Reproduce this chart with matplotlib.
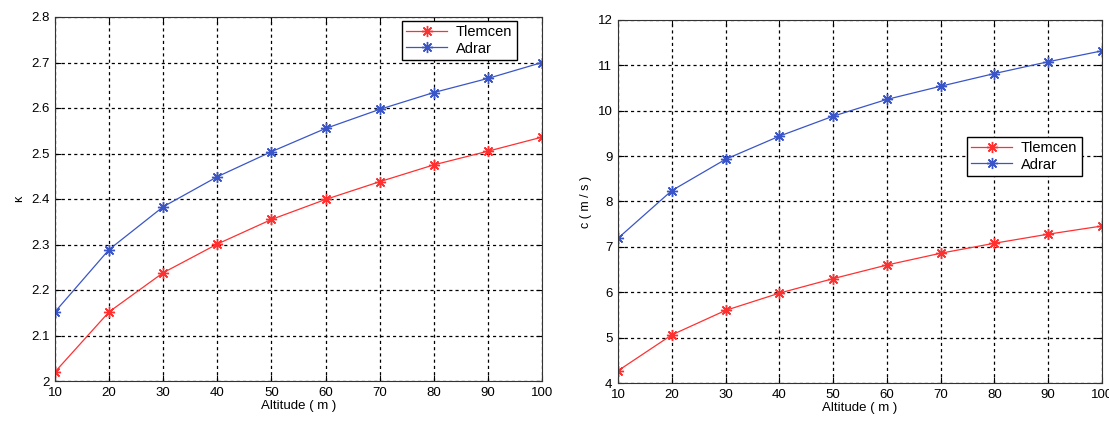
import matplotlib
matplotlib.use("Agg")
import matplotlib.pyplot as plt

altitude = [10, 20, 30, 40, 50, 60, 70, 80, 90, 100]
k_tlemcen = [2.02, 2.152, 2.238, 2.301, 2.355, 2.399, 2.438, 2.475, 2.505, 2.536]
k_adrar = [2.152, 2.289, 2.383, 2.449, 2.504, 2.555, 2.597, 2.634, 2.665, 2.700]
c_tlemcen = [4.27, 5.06, 5.60, 5.98, 6.30, 6.60, 6.86, 7.08, 7.28, 7.46]
c_adrar = [7.19, 8.24, 8.93, 9.44, 9.88, 10.25, 10.54, 10.82, 11.08, 11.32]
series_names = ["Tlemcen", "Adrar"]
xticks = [10, 20, 30, 40, 50, 60, 70, 80, 90, 100]
k_ticks = [2.0, 2.1, 2.2, 2.3, 2.4, 2.5, 2.6, 2.7, 2.8]
k_ticklabels = ["2", "2.1", "2.2", "2.3", "2.4", "2.5", "2.6", "2.7", "2.8"]
c_ticks = [4, 5, 6, 7, 8, 9, 10, 11, 12]

plt.rcParams['font.family'] = ['Liberation Sans', 'DejaVu Sans']
RED = "#ff3030"
BLUE = "#3a55c8"
MARK = (8, 2, 0)

fig = plt.figure(figsize=(11.09, 4.23), dpi=100)
W, H = 1109, 423

def make_ax(l, t, r, b):
    return fig.add_axes([l / W, 1 - b / H, (r - l) / W, (b - t) / H])

ax1 = make_ax(55, 17, 542, 381)
ax2 = make_ax(618, 20, 1102, 383)

def style(ax, yticks, ylabels, ylim, ylabel):
    ax.set_xlim(10, 100)
    ax.set_ylim(*ylim)
    ax.set_xticks(xticks)
    ax.set_yticks(yticks)
    if ylabels is not None:
        ax.set_yticklabels(ylabels)
    ax.grid(True, color="black", linestyle=(0, (2.5, 2.5)), linewidth=0.9)
    ax.tick_params(direction="in", top=True, right=True, length=4,
                   labelsize=9.5, colors="black", pad=4)
    for s in ax.spines.values():
        s.set_linewidth(0.8)
        s.set_color("#333333")
    ax.set_xlabel("Altitude ( m )", fontsize=9.5, labelpad=1)
    ax.set_ylabel(ylabel, fontsize=9, labelpad=4)

def draw(ax, t, a):
    ax.plot(altitude, t, color=RED, marker=MARK, markersize=8, markeredgewidth=1.0,
            linewidth=0.9, label=series_names[0])
    ax.plot(altitude, a, color=BLUE, marker=MARK, markersize=8, markeredgewidth=1.0,
            linewidth=0.9, label=series_names[1])

def legend(ax, anchor):
    leg = ax.legend(loc="upper left", bbox_to_anchor=anchor, fontsize=10.5,
                    fancybox=False, edgecolor="black", framealpha=1,
                    handlelength=2.8, borderpad=0.3, labelspacing=0.15,
                    handletextpad=0.6, borderaxespad=0)
    leg.get_frame().set_linewidth(1.0)

draw(ax1, k_tlemcen, k_adrar)
style(ax1, k_ticks, k_ticklabels, (2.0, 2.8), "\u03ba")
legend(ax1, ((402 - 55) / 487, 1 - (21 - 17) / 364))

draw(ax2, c_tlemcen, c_adrar)
style(ax2, c_ticks, None, (4, 12), "c ( m / s )")
legend(ax2, ((967 - 618) / 484, 1 - (137 - 20) / 363))

fig.savefig("out.png", dpi=100)
